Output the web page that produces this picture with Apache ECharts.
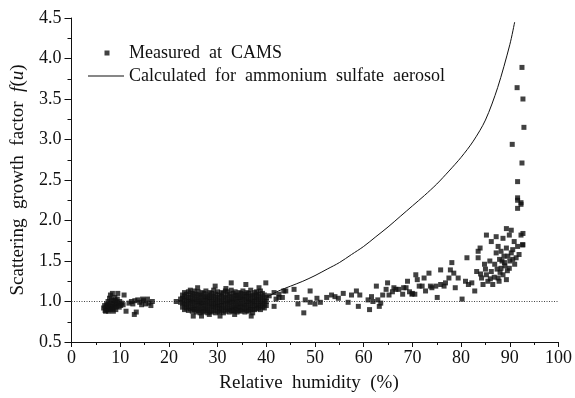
<!DOCTYPE html>
<html>
<head>
<meta charset="utf-8">
<script src="https://cdn.jsdelivr.net/npm/echarts@6/dist/echarts.min.js"></script>
<style>
  html, body { margin: 0; padding: 0; background: #fff; }
  #chart { width: 575px; height: 398px; }
</style>
</head>
<body>
<div id="chart"></div>
<script>
// measured points, [RH %, f(u)]
const lowRH = [
  [6.6,0.92],[6.8,0.95],[6.9,0.89],[7.1,0.93],[7.2,0.97],[7.3,0.9],[7.4,0.94],[7.5,1.0],
  [7.6,0.88],[7.7,0.96],[7.8,1.04],[7.9,0.92],[8.0,1.08],[8.0,0.98],[8.1,0.9],[8.2,1.02],
  [8.3,0.94],[8.4,1.1],[8.5,0.97],[8.6,0.88],[8.7,1.01],[8.8,0.93],[8.9,1.05],[9.0,0.96],
  [9.1,0.9],[9.2,0.99],[9.3,0.94],[9.4,1.03],[9.5,1.1],[9.6,0.97],[9.8,0.93],[9.9,1.0],
  [10.1,0.95],[10.3,0.98],[10.6,0.96],[10.8,1.08],[7.0,0.88],[8.4,0.91],[9.0,1.01],
  [11.2,0.88],[11.8,0.98],[12.3,1.0],[12.6,0.97],[12.9,0.84],[13.3,0.87],[13.0,1.01],
  [13.6,1.02],[14.0,0.99],[14.4,0.96],[14.6,1.03],[14.8,1.01],[15.2,0.97],[15.6,1.03],
  [15.9,0.98],[16.3,0.95],[16.6,1.0]
];

const midRH = [
  [21.5,1.0],[22.4,0.99],[22.4,1.03],
  [22.8,0.93],[22.8,0.98],[22.8,1.04],[22.8,1.08],
  [23.2,0.9],[23.2,0.96],[23.2,1.01],[23.2,1.06],[23.2,1.11],
  [23.6,0.92],[23.6,0.97],[23.6,1.03],[23.6,1.09],
  [24.0,0.89],[24.0,0.94],[24.0,1.0],[24.0,1.05],[24.0,1.12],
  [24.4,0.91],[24.4,0.97],[24.4,1.02],[24.4,1.08],[24.4,1.14],
  [24.8,0.88],[24.8,0.93],[24.8,0.99],[24.8,1.04],[24.8,1.1],
  [25.2,0.9],[25.2,0.95],[25.2,1.01],[25.2,1.07],[25.2,1.13],
  [25.6,0.87],[25.6,0.92],[25.6,0.98],[25.6,1.03],[25.6,1.09],
  [26.0,0.89],[26.0,0.95],[26.0,1.0],[26.0,1.06],[26.0,1.12],
  [26.4,0.86],[26.4,0.91],[26.4,0.97],[26.4,1.02],[26.4,1.08],
  [26.8,0.88],[26.8,0.94],[26.8,0.99],[26.8,1.05],[26.8,1.11],
  [27.2,0.87],[27.2,0.92],[27.2,0.98],[27.2,1.04],[27.2,1.1],
  [27.6,0.89],[27.6,0.95],[27.6,1.01],[27.6,1.06],[27.6,1.13],
  [28.0,0.86],[28.0,0.91],[28.0,0.97],[28.0,1.03],[28.0,1.08],
  [28.4,0.88],[28.4,0.94],[28.4,1.0],[28.4,1.05],[28.4,1.11],
  [28.8,0.87],[28.8,0.93],[28.8,0.98],[28.8,1.04],[28.8,1.1],
  [29.2,0.89],[29.2,0.95],[29.2,1.01],[29.2,1.07],[29.2,1.14],
  [29.6,0.86],[29.6,0.92],[29.6,0.97],[29.6,1.03],[29.6,1.09],
  [30.0,0.88],[30.0,0.94],[30.0,0.99],[30.0,1.05],[30.0,1.12],
  [30.4,0.87],[30.4,0.91],[30.4,0.96],[30.4,1.02],[30.4,1.08],
  [30.8,0.89],[30.8,0.95],[30.8,1.0],[30.8,1.06],[30.8,1.11],
  [31.2,0.86],[31.2,0.92],[31.2,0.98],[31.2,1.04],[31.2,1.1],
  [31.6,0.88],[31.6,0.93],[31.6,0.99],[31.6,1.05],[31.6,1.13],
  [32.0,0.9],[32.0,0.96],[32.0,1.01],[32.0,1.07],[32.0,1.12],
  [32.4,0.87],[32.4,0.92],[32.4,0.98],[32.4,1.03],[32.4,1.09],
  [32.8,0.89],[32.8,0.94],[32.8,1.0],[32.8,1.06],[32.8,1.14],
  [33.2,0.88],[33.2,0.93],[33.2,0.99],[33.2,1.04],[33.2,1.1],
  [33.6,0.9],[33.6,0.95],[33.6,1.01],[33.6,1.07],[33.6,1.12],
  [34.0,0.87],[34.0,0.92],[34.0,0.97],[34.0,1.03],[34.0,1.08],
  [34.4,0.89],[34.4,0.94],[34.4,1.0],[34.4,1.05],[34.4,1.11],
  [34.8,0.88],[34.8,0.93],[34.8,0.98],[34.8,1.04],[34.8,1.1],
  [35.2,0.9],[35.2,0.96],[35.2,1.02],[35.2,1.07],[35.2,1.13],
  [35.6,0.87],[35.6,0.92],[35.6,0.97],[35.6,1.03],[35.6,1.09],
  [36.0,0.89],[36.0,0.95],[36.0,1.0],[36.0,1.06],[36.0,1.11],
  [36.4,0.88],[36.4,0.93],[36.4,0.99],[36.4,1.04],[36.4,1.1],
  [36.8,0.9],[36.8,0.95],[36.8,1.01],[36.8,1.07],[36.8,1.14],
  [37.2,0.86],[37.2,0.91],[37.2,0.97],[37.2,1.02],[37.2,1.08],
  [37.6,0.9],[37.6,0.95],[37.6,1.0],[37.6,1.05],[37.6,1.11],
  [38.0,0.91],[38.0,0.96],[38.0,1.02],[38.0,1.07],[38.0,1.12],
  [38.4,0.92],[38.4,0.97],[38.4,1.03],[38.4,1.09],
  [38.8,0.9],[38.8,0.95],[38.8,1.0],[38.8,1.06],[38.8,1.13],
  [39.2,0.93],[39.2,0.98],[39.2,1.04],[39.2,1.1],
  [39.6,0.92],[39.6,0.97],[39.6,1.02],[39.6,1.08],
  [40.0,0.95],[40.0,1.0],[40.0,1.05],
  [25.9,1.17],[29.5,1.19],[31.7,1.16],[32.8,1.23],[35.8,1.21],[39.9,1.23],[38.5,1.17],
  [25.0,0.82],[26.7,0.82],[30.5,0.82],[36.9,0.82],[28.3,0.84],[33.5,0.84]
];

const highRH = [
  [40.6,1.07],[41.6,1.11],[42.0,1.03],[42.6,1.09],[43.3,1.05],[43.6,1.13],[41.6,0.94],
  [42.6,1.05],[44.0,1.13],[45.7,1.15],[46.3,1.05],[46.5,0.97],[47.7,0.86],[48.0,1.02],
  [49.0,1.13],[49.0,0.99],[50.0,0.97],[50.4,1.04],[51.1,0.99],[52.4,1.05],[53.4,1.08],
  [54.1,1.06],[54.8,1.04],[55.8,1.1],[56.8,0.99],[57.5,1.08],[58.5,1.13],[58.9,0.94],
  [59.2,1.08],[61.2,0.9],[60.9,1.02],[61.6,1.06],[61.9,1.0],[62.6,1.19],[62.9,1.02],
  [63.2,0.94],[63.5,0.98],[63.9,1.08],[64.6,1.15],[64.9,1.23],[65.2,1.08],[65.9,1.12],
  [66.2,1.17],[67.2,1.15],[68.2,1.17],[69.0,1.25],[69.4,1.12],[70.0,1.1],
  [66.6,1.15],[68.0,1.09],[68.7,1.17],[69.9,1.09],[70.5,1.09],[70.7,1.33],[71.0,1.27],
  [71.4,1.19],[72.0,1.19],[72.4,1.29],[72.7,1.13],[73.4,1.35],[73.7,1.19],[74.0,1.17],
  [75.1,1.05],[74.8,1.19],[75.8,1.39],[75.8,1.21],[76.5,1.19],[76.8,1.23],[77.5,1.29],
  [77.8,1.39],[78.1,1.48],[78.5,1.35],[78.8,1.17],[79.4,1.29],[80.2,1.03],[80.9,1.25],
  [81.2,1.54],[81.5,1.21],[82.2,1.23],[82.8,1.13],[83.2,1.37],[83.5,1.62],[83.5,1.54],
  [83.9,1.66],[84.2,1.29],[84.5,1.21],[84.8,1.46],[85.2,1.82],[85.2,1.33],[85.5,1.25],
  [85.9,1.5],[86.2,1.74],[86.2,1.37],[86.5,1.21],[86.9,1.46],[87.2,1.6],[87.2,1.8],
  [87.6,1.29],[87.6,1.68],[87.9,1.52],[88.2,1.41],[88.2,1.62],[88.6,1.78],[88.6,1.33],
  [88.9,1.48],[89.3,1.9],[89.3,1.66],[89.3,1.27],[89.6,1.56],[89.9,1.82],[89.9,1.41],
  [90.3,1.88],[90.3,1.6],[90.6,1.52],[90.9,1.74],[91.3,1.54],[91.9,1.58],[92.3,1.82],
  [92.6,1.7],[86.8,1.3],[87.4,1.4],[88.0,1.36],[88.4,1.5],[88.8,1.56],[89.0,1.44],
  [89.5,1.38],[90.0,1.5],[90.6,1.64],[91.0,1.46],[91.6,1.68],[87.8,1.25],[86.0,1.28],
  [85.0,1.4],[84.0,1.34],[92.7,1.84],[92.7,1.7],
  [91.6,2.15],[92.3,2.2],[91.6,2.25],[92.3,2.22],[91.6,2.28],[91.6,2.48],[92.5,2.71],
  [90.5,2.94],[92.9,3.15],[92.7,3.5],[91.5,3.64],[92.5,3.89]
];

// calculated f(RH) for ammonium sulfate
const calcRH = [40, 42.5, 45, 47.5, 50, 52.5, 55, 57.5, 60, 62.5, 65, 67.5, 70, 72.5, 75, 77.5, 80, 82.5, 85, 87.5, 90, 91];
const calcF = [1.05, 1.13, 1.19, 1.25, 1.32, 1.4, 1.48, 1.58, 1.68, 1.8, 1.92, 2.05, 2.18, 2.31, 2.45, 2.61, 2.78, 2.98, 3.24, 3.64, 4.17, 4.45];

const refRH = [0, 100];
const refF = [1.0, 1.0];

const FONT = 'Liberation Serif';
const INK = '#111';

const chart = echarts.init(document.getElementById('chart'));

chart.setOption({
  animation: false,
  grid: { left: 71.5, right: 10.7, top: 18, bottom: 53.5 },
  legend: [
    {
      data: [{ name: 'Measured  at  CAMS', icon: 'path://M0,0M36,0M36,14M0,14M16.5,4.5h5v5h-5z' }],
      left: 88, top: 44, padding: 0,
      itemWidth: 36, itemHeight: 14,
      textStyle: { fontFamily: FONT, fontSize: 18, color: INK }
    },
    {
      data: [{ name: 'Calculated  for  ammonium  sulfate  aerosol', icon: 'path://M0,0M36,0M36,14M0,14M0,6.5h36v1h-36z' }],
      left: 88, top: 67, padding: 0,
      itemWidth: 36, itemHeight: 14,
      textStyle: { fontFamily: FONT, fontSize: 18, color: INK }
    }
  ],
  xAxis: {
    type: 'value',
    min: 0, max: 100, interval: 10,
    name: 'Relative  humidity  (%)',
    nameLocation: 'middle',
    nameGap: 32,
    nameTextStyle: { fontFamily: FONT, fontSize: 19, color: INK, padding: [0, 12, 0, 0] },
    axisLine: { lineStyle: { color: INK, width: 1 } },
    axisTick: { inside: false, length: 5, lineStyle: { color: INK } },
    minorTick: { show: true, splitNumber: 2, length: 3, lineStyle: { color: INK } },
    axisLabel: { fontFamily: FONT, fontSize: 18, color: INK, margin: 7 },
    splitLine: { show: false }
  },
  yAxis: {
    type: 'value',
    min: 0.5, max: 4.5, interval: 0.5,
    name: '{n|Scattering  growth  factor  }{i|f}{n|(}{i|u}{n|)}',
    nameLocation: 'middle',
    nameGap: 44,
    nameTextStyle: {
      rich: {
        n: { fontFamily: FONT, fontSize: 19, color: INK },
        i: { fontFamily: FONT, fontSize: 19, color: INK, fontStyle: 'italic' }
      }
    },
    axisLine: { show: true, lineStyle: { color: INK, width: 1 } },
    axisTick: { inside: false, length: 7, lineStyle: { color: INK } },
    minorTick: { show: true, splitNumber: 2, length: 4, lineStyle: { color: INK } },
    axisLabel: {
      fontFamily: FONT, fontSize: 18, color: INK, margin: 10,
      formatter: v => v.toFixed(1)
    },
    splitLine: { show: false }
  },
  series: [
    {
      name: 'Measured  at  CAMS',
      type: 'scatter',
      symbol: 'rect',
      symbolSize: 5,
      itemStyle: { color: INK },
      data: lowRH.concat(midRH, highRH),
      z: 3
    },
    {
      name: 'Calculated  for  ammonium  sulfate  aerosol',
      type: 'line',
      smooth: 0.3,
      symbol: 'none',
      lineStyle: { color: INK, width: 1 },
      itemStyle: { color: INK },
      data: calcRH.map((x, i) => [x, calcF[i]]),
      z: 4
    },
    {
      name: 'ref',
      type: 'line',
      symbol: 'none',
      silent: true,
      lineStyle: { color: '#444', width: 1, type: [1, 1.5] },
      data: refRH.map((x, i) => [x, refF[i]]),
      z: 2
    }
  ]
});
</script>
</body>
</html>
